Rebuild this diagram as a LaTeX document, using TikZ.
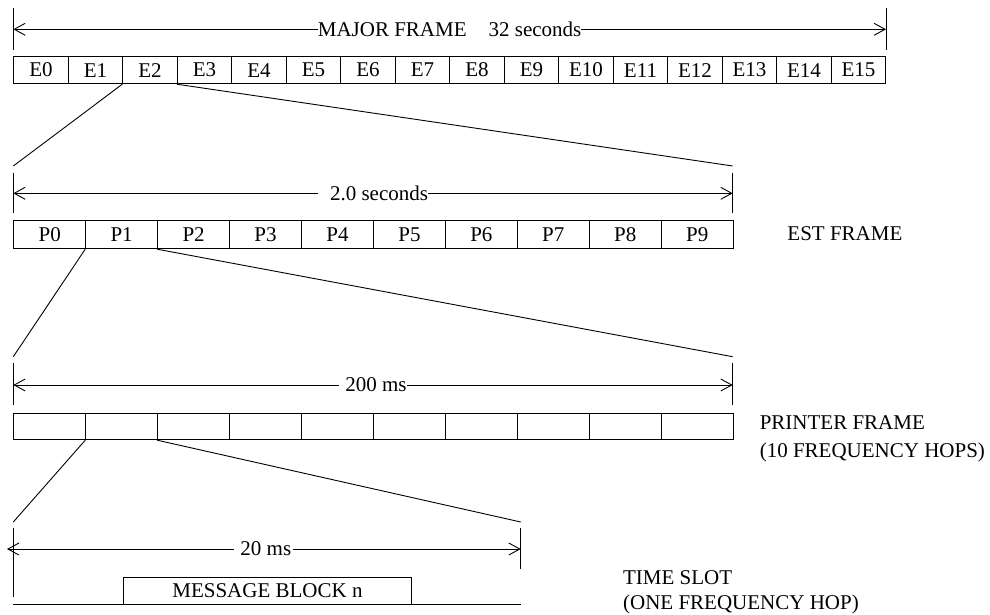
\documentclass[tikz,border=0pt]{standalone}
\usepackage{fontspec}
\setmainfont{Liberation Serif}
\usetikzlibrary{arrows.meta}
\begin{document}
\begin{tikzpicture}[x=1pt,y=-1pt,line width=0.9pt,
  every node/.style={font=\fontsize{21}{25}\selectfont},
  cell/.style={draw,inner sep=0pt,anchor=north west},
  dimline/.style={{Straight Barb[length=11pt,width=12pt]}-{Straight Barb[length=11pt,width=12pt]}},
  lbl/.style={fill=white,inner sep=0pt},
  side/.style={anchor=base west,inner sep=0pt}]
\useasboundingbox (0,0) rectangle (990,615);

% ---------- MAJOR FRAME ----------
\coordinate (mTLt) at (13.3,8.3);  \coordinate (mTLb) at (13.3,50);
\coordinate (mTRt) at (886,8.3);   \coordinate (mTRb) at (886,50);
\coordinate (mL) at (13.3,29.3);   \coordinate (mR) at (886,29.3);
\draw (mTLt) -- (mTLb);
\draw (mTRt) -- (mTRb);
\draw[dimline] (mL) -- node[lbl]{MAJOR FRAME\hspace{22pt}32 seconds} (mR);
\foreach \i in {0,...,15}
  \node[cell,minimum width=54.5pt,minimum height=27.3pt] (E\i) at ({13.3+54.5*\i},56) {E\i};

\coordinate (z1L) at (13.3,166);
\coordinate (z1R) at (732.7,166);
\draw (E2.south west) -- (z1L);
\draw (E3.south west) -- (z1R);

% ---------- EST FRAME ----------
\coordinate (eTLt) at (13.3,172.7);  \coordinate (eTLb) at (13.3,213.3);
\coordinate (eTRt) at (732.7,172.7); \coordinate (eTRb) at (732.7,213.3);
\coordinate (eL) at (13.3,193.3);    \coordinate (eR) at (732.7,193.3);
\draw (eTLt) -- (eTLb);
\draw (eTRt) -- (eTRb);
\draw[dimline] (eL) -- node[lbl]{\hspace*{12pt}2.0 seconds} (eR);
\foreach \i in {0,...,9}
  \node[cell,minimum width=71.94pt,minimum height=28.3pt] (P\i) at ({13.3+71.94*\i},220) {P\i};
\node[side] (estlbl) at (787,240.7) {EST FRAME};

\coordinate (z2L) at (13.3,356.7);
\coordinate (z2R) at (732.7,356.7);
\draw (P1.south west) -- (z2L);
\draw (P2.south west) -- (z2R);

% ---------- PRINTER FRAME ----------
\coordinate (pTLt) at (13.3,363.3);  \coordinate (pTLb) at (13.3,405);
\coordinate (pTRt) at (732.7,363.3); \coordinate (pTRb) at (732.7,405);
\coordinate (pL) at (13.3,385);      \coordinate (pR) at (732.7,385);
\draw (pTLt) -- (pTLb);
\draw (pTRt) -- (pTRb);
\draw[dimline] (pL) -- node[lbl]{\hspace*{6pt}200 ms} (pR);
\foreach \i in {0,...,9}
  \node[cell,minimum width=71.94pt,minimum height=26.6pt] (F\i) at ({13.3+71.94*\i},412.7) {};
\node[side] (prlbl1) at (759.3,429.3) {PRINTER FRAME};
\node[side] (prlbl2) at (759.3,457.3) {(10 FREQUENCY HOPS)};

\coordinate (z3L) at (13.3,522);
\coordinate (z3R) at (520.7,522);
\draw (F1.south west) -- (z3L);
\draw (F2.south west) -- (z3R);

% ---------- TIME SLOT ----------
\coordinate (tTLt) at (13.3,528);    \coordinate (tTLb) at (13.3,597.3);
\coordinate (tTRt) at (520.7,528);   \coordinate (tTRb) at (520.7,569);
\coordinate (tL) at (7,549);         \coordinate (tR) at (520.7,549);
\draw (tTLt) -- (tTLb);
\draw (tTRt) -- (tTRb);
\draw[dimline] (tL) -- node[lbl]{\hspace*{6pt}20 ms\hspace*{2pt}} (tR);
\coordinate (bL) at (13.3,604);
\coordinate (bR) at (520.7,604);
\draw (bL) -- (bR);
\node[cell,fill=white,minimum width=287.4pt,minimum height=27.3pt] (msg) at (123.3,576.7) {MESSAGE BLOCK n};
\node[side] (tslbl1) at (622.7,584.3) {TIME SLOT};
\node[side] (tslbl2) at (622.7,609.3) {(ONE FREQUENCY HOP)};
\end{tikzpicture}
\end{document}
